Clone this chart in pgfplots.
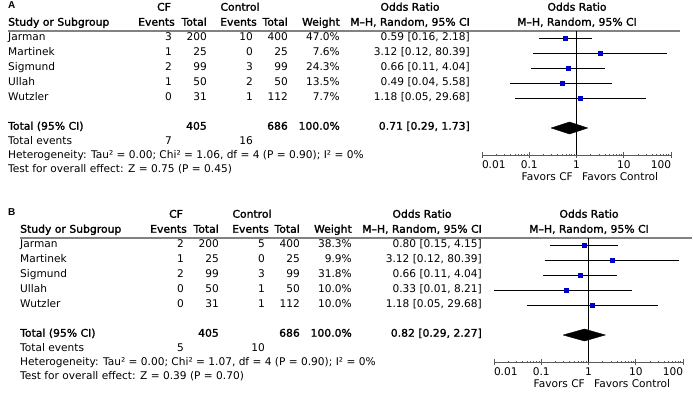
\documentclass[border=0pt]{standalone}
\usepackage{pgfplots}
\pgfplotsset{compat=1.18}
\usepackage{fontspec}
\setmainfont{DejaVu Sans}[BoldFont=DejaVu Sans, BoldFeatures={FakeBold=1.6, FakeStretch=1.02}]
\newfontfamily\labfont{Liberation Sans}
\definecolor{sqblue}{RGB}{0,0,200}
\definecolor{rulegray}{RGB}{130,130,130}
\newcommand{\fs}{\fontsize{10.6}{12}\selectfont}
\newcommand{\trow}[8]{%
  \node[anchor=mid west] at (8,#1) {#2};
  \node[anchor=mid east] at (172,#1) {#3};
  \node[anchor=mid east] at (207,#1) {#4};
  \node[anchor=mid east] at (253,#1) {#5};
  \node[anchor=mid east] at (288,#1) {#6};
  \node[anchor=mid east] at (340,#1) {#7};
  \node[anchor=mid east] at (470,#1) {#8};}
\newcommand{\headers}[1]{%
  \node[anchor=mid] at (164,8) {\bfseries CF};
  \node[anchor=mid] at (240,8) {\bfseries Control};
  \node[anchor=mid] at (410,8) {\bfseries Odds Ratio};
  \node[anchor=mid] at (577,8) {\bfseries Odds Ratio};
  \node[anchor=mid west] at (8,23) {\bfseries Study or Subgroup};
  \node[anchor=mid east] at (175,23) {\bfseries Events};
  \node[anchor=mid east] at (207,23) {\bfseries Total};
  \node[anchor=mid east] at (257,23) {\bfseries Events};
  \node[anchor=mid east] at (288,23) {\bfseries Total};
  \node[anchor=mid east] at (340,23) {\bfseries Weight};
  \node[anchor=mid east] at (470,23) {\bfseries M–H, Random, 95\% CI};
  \node[anchor=mid] at (577,23) {\bfseries M–H, Random, 95\% CI};
  \draw[rulegray, line width=1.2pt] (8,31) -- (#1,31);
  \node[anchor=mid east] at (573,178) {Favors CF};
  \node[anchor=mid west] at (582,178) {Favors Control};}
\begin{document}
\begin{tikzpicture}
\begin{scope}[x=1pt,y=-1pt,font=\fs, inner sep=0pt]
\path[use as bounding box] (0,0) rectangle (693,411);
\node[anchor=mid west, font=\labfont\bfseries\fontsize{10}{12}\selectfont] at (8,6) {A};
\node[anchor=mid west, font=\labfont\bfseries\fontsize{10}{12}\selectfont] at (8,213) {B};
\headers{680}
\trow{38}{Jarman}{3}{200}{10}{400}{47.0\%}{0.59 [0.16, 2.18]}
\trow{53}{Martinek}{1}{25}{0}{25}{7.6\%}{3.12 [0.12, 80.39]}
\trow{68}{Sigmund}{2}{99}{3}{99}{24.3\%}{0.66 [0.11, 4.04]}
\trow{83}{Ullah}{1}{50}{2}{50}{13.5\%}{0.49 [0.04, 5.58]}
\trow{98}{Wutzler}{0}{31}{1}{112}{7.7\%}{1.18 [0.05, 29.68]}
\begin{scope}[font=\fs\bfseries]
\trow{127}{Total (95\% CI)}{}{405}{}{686}{100.0\%}{0.71 [0.29, 1.73]}
\end{scope}
\trow{142}{Total events}{7}{}{16}{}{}{}
\node[anchor=mid west] at (8,156) {Heterogeneity: Tau² = 0.00; Chi² = 1.06, df = 4 (P = 0.90); I² = 0\%};
\node[anchor=mid west] at (8,170) {Test for overall effect: Z = 0.75 (P = 0.45)};
\end{scope}
\begin{scope}[x=1pt,y=-1pt,font=\fs, inner sep=0pt, shift={(12,207)}]
\headers{680}
\trow{38}{Jarman}{2}{200}{5}{400}{38.3\%}{0.80 [0.15, 4.15]}
\trow{53}{Martinek}{1}{25}{0}{25}{9.9\%}{3.12 [0.12, 80.39]}
\trow{68}{Sigmund}{2}{99}{3}{99}{31.8\%}{0.66 [0.11, 4.04]}
\trow{83}{Ullah}{0}{50}{1}{50}{10.0\%}{0.33 [0.01, 8.21]}
\trow{98}{Wutzler}{0}{31}{1}{112}{10.0\%}{1.18 [0.05, 29.68]}
\begin{scope}[font=\fs\bfseries]
\trow{127}{Total (95\% CI)}{}{405}{}{686}{100.0\%}{0.82 [0.29, 2.27]}
\end{scope}
\trow{142}{Total events}{5}{}{10}{}{}{}
\node[anchor=mid west] at (8,156) {Heterogeneity: Tau² = 0.00; Chi² = 1.07, df = 4 (P = 0.90); I² = 0\%};
\node[anchor=mid west] at (8,170) {Test for overall effect: Z = 0.39 (P = 0.70)};
\end{scope}
% Panel A forest
\begin{axis}[at={(482pt,-31pt)}, anchor=north west,
  xmode=log, xmin=0.01, xmax=100, ymin=0.533, ymax=8.8, y dir=reverse,
  width=189pt, height=124pt, scale only axis,
  axis y line=none, axis x line*=bottom, x axis line style={-, draw=black!65, line width=0.9pt},
  xtick={0.01,0.1,1,10,100},
  xticklabels={\makebox[0pt][l]{0.01},0.1,1,10,\makebox[0pt][r]{100}},
  minor xtick={}, tick align=center, major tick length=6pt,
  xtick style={draw=black!65, line width=0.9pt},
  xticklabel style={font=\fs, inner sep=1pt, yshift=-1.5pt},
  clip=false]
\addplot[black, line width=0.7pt] coordinates {(1,0.533) (1,8.8)};
\addplot[black, line width=0.7pt, unbounded coords=jump] table {
x y
0.16 1
2.18 1
nan nan
0.12 2
80.39 2
nan nan
0.11 3
4.04 3
nan nan
0.04 4
5.58 4
nan nan
0.05 5
29.68 5
};
\addplot[scatter, only marks, mark=square*, visualization depends on={\thisrow{s}\as\ms},
  scatter/@pre marker code/.append style={/tikz/mark size=\ms},
  scatter/use mapped color={draw=sqblue, fill=sqblue}] table {
x y s
0.59 1 4.4
3.12 2 1.6
0.66 3 3.0
0.49 4 2.0
1.18 5 1.6
};
\addplot[fill=black, draw=black] coordinates {(0.29,7) (0.71,6.6) (1.73,7) (0.71,7.4) (0.29,7)};
\end{axis}
% Panel B forest
\begin{axis}[at={(494pt,-238pt)}, anchor=north west,
  xmode=log, xmin=0.01, xmax=100, ymin=0.533, ymax=8.8, y dir=reverse,
  width=189pt, height=124pt, scale only axis,
  axis y line=none, axis x line*=bottom, x axis line style={-, draw=black!65, line width=0.9pt},
  xtick={0.01,0.1,1,10,100},
  xticklabels={\makebox[0pt][l]{0.01},0.1,1,10,\makebox[0pt][r]{100}},
  minor xtick={}, tick align=center, major tick length=6pt,
  xtick style={draw=black!65, line width=0.9pt},
  xticklabel style={font=\fs, inner sep=1pt, yshift=-1.5pt},
  clip=false]
\addplot[black, line width=0.7pt] coordinates {(1,0.533) (1,8.8)};
\addplot[black, line width=0.7pt, unbounded coords=jump] table {
x y
0.15 1
4.15 1
nan nan
0.12 2
80.39 2
nan nan
0.11 3
4.04 3
nan nan
0.01 4
8.21 4
nan nan
0.05 5
29.68 5
};
\addplot[scatter, only marks, mark=square*, visualization depends on={\thisrow{s}\as\ms},
  scatter/@pre marker code/.append style={/tikz/mark size=\ms},
  scatter/use mapped color={draw=sqblue, fill=sqblue}] table {
x y s
0.80 1 3.9
3.12 2 1.6
0.66 3 3.5
0.33 4 1.7
1.18 5 1.7
};
\addplot[fill=black, draw=black] coordinates {(0.29,7) (0.82,6.6) (2.27,7) (0.82,7.4) (0.29,7)};
\end{axis}
\end{tikzpicture}
\end{document}
